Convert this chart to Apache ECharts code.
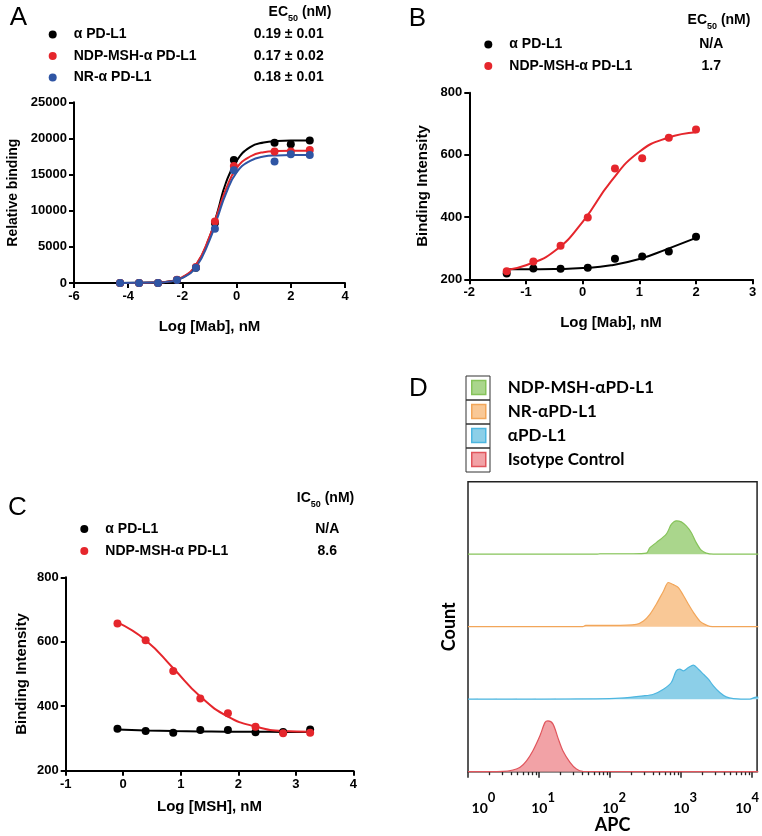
<!DOCTYPE html>
<html><head><meta charset="utf-8">
<script src="https://cdn.jsdelivr.net/npm/echarts@6/dist/echarts.min.js"></script>
<style>html,body{margin:0;padding:0;background:#fff}#c{width:762px;height:836px}</style>
</head><body><div id="c"></div>
<script>
// ---------- Panel A ----------
const aX = [-4.3, -3.6, -2.9, -2.2, -1.5, -0.8, -0.1, 1.4, 2.0, 2.7];
const aBlack = [0, 0, 0, 400, 2100, 8300, 17000, 19400, 19200, 19700];
const aRed = [0, 0, 0, 450, 2200, 8500, 16200, 18200, 18200, 18400];
const aBlue = [0, 0, 0, 400, 2100, 7500, 15600, 16800, 17800, 17700];
const aFitX = [-4.3, -3, -2.5, -2, -1.5, -1, -0.7, -0.4, 0, 0.5, 1, 1.5, 2, 2.7];
const aBlackFit = [0, 60, 200, 750, 2400, 6300, 9900, 13800, 16900, 18800, 19450, 19650, 19700, 19700];
const aRedFit = [0, 70, 220, 800, 2500, 6400, 9700, 12900, 15900, 17500, 18100, 18250, 18300, 18300];
const aBlueFit = [0, 55, 190, 700, 2200, 5900, 9100, 12300, 15300, 16900, 17500, 17650, 17700, 17700];
const aNames = ['α PD-L1', 'NDP-MSH-α PD-L1', 'NR-α PD-L1'];
const aEC50 = ['0.19 ± 0.01', '0.17 ± 0.02', '0.18 ± 0.01'];

// ---------- Panel B ----------
const bX = [-1.34, -0.87, -0.39, 0.09, 0.57, 1.05, 1.52, 2.0];
const bBlack = [219, 235, 234, 237, 266, 273, 289, 337];
const bRed = [226, 257, 308, 399, 556, 589, 655, 682];
const bFitX = [-1.34, -1, -0.5, 0, 0.5, 1, 1.5, 2];
const bBlackFit = [232, 232, 233, 236, 245, 265, 298, 333];
const bRedFit = [230, 245, 290, 385, 515, 610, 655, 673];
const bNames = ['α PD-L1', 'NDP-MSH-α PD-L1'];
const bEC50 = ['N/A', '1.7'];

// ---------- Panel C ----------
const cX = [-0.1, 0.39, 0.87, 1.34, 1.82, 2.30, 2.78, 3.25];
const cBlack = [330, 323, 318, 326, 326, 319, 320, 328];
const cRed = [657, 605, 509, 424, 378, 336, 316, 318];
const cBlackFit = [328, 325, 323, 322, 321, 321, 320, 320];
const cRedFit = [660, 605, 518, 430, 368, 337, 323, 321];
const cNames = ['α PD-L1', 'NDP-MSH-α PD-L1'];
const cIC50 = ['N/A', '8.6'];

// ---------- Panel D (x = log10 APC, y = relative count) ----------
const dNames = ['NDP-MSH-αPD-L1', 'NR-αPD-L1', 'αPD-L1', 'Isotype Control'];
const dGreenX = [0, 1.80, 1.85, 2.32, 2.50, 2.55, 2.64, 2.78, 2.85, 2.92, 2.99, 3.06, 3.13, 3.20, 3.27, 3.34, 3.44, 4.07];
const dGreenY = [0, 0, 0.6, 0.6, 1.5, 9, 16, 27.6, 41, 46, 44.6, 39, 30, 16, 5.5, 1.4, 0, 0];
const dOrangeX = [0, 1.61, 1.65, 2.03, 2.36, 2.46, 2.55, 2.64, 2.74, 2.81, 2.88, 2.95, 3.02, 3.09, 3.16, 3.25, 3.32, 3.39, 3.48, 4.07];
const dOrangeY = [0, 0, 1.8, 1.8, 3.2, 7.8, 17, 31, 49, 61, 58, 54, 43, 31, 19.8, 7.8, 3.2, 0.5, 0, 0];
const dBlueX = [0, 1.80, 2.13, 2.46, 2.60, 2.74, 2.85, 2.92, 2.97, 3.02, 3.09, 3.16, 3.23, 3.30, 3.37, 3.44, 3.53, 3.62, 3.72, 3.95, 4.04, 4.07];
const dBlueY = [0, 0.5, 1.4, 4.6, 6.9, 13.8, 23, 39, 41.4, 39, 43.7, 46.9, 41.4, 34.5, 27.6, 18.4, 9.2, 3.2, 0.9, 0, 3, 3];
const dRedX = [0, 0.49, 0.63, 0.73, 0.82, 0.91, 1.01, 1.08, 1.12, 1.19, 1.26, 1.33, 1.43, 1.52, 1.61, 4.07];
const dRedY = [0, 0.5, 2.3, 6, 15, 29, 50, 68, 70, 66, 47, 29, 13, 3.7, 0.5, 0];
const dDecades = [0, 1, 2, 3, 4];

const dFill = ['#aad68c', '#f9c896', '#8ccfe8', '#f2a2a6'];
const dStroke = ['#86c35a', '#f2a65a', '#4db6e0', '#e0555c'];

const F = "'Liberation Sans', Arial, sans-serif";
const FD = "Lato, 'Open Sans', sans-serif";
const RED = '#e5262c', BLUE = '#2f55a4', BLACK = '#000';
const zip = (xs, ys) => xs.map((x, i) => [x, ys[i]]);

function xAx(grid, min, max, interval, name, gap) {
  return {
    gridIndex: grid, type: 'value', min, max, interval,
    axisLine: {show: true, onZero: false, lineStyle: {color: '#000', width: 2}},
    axisTick: {show: true, length: 5, lineStyle: {color: '#000', width: 2}},
    splitLine: {show: false},
    axisLabel: {color: '#000', fontFamily: F, fontWeight: 'bold', fontSize: 13, margin: 7, formatter: v => String(v)},
    name, nameLocation: 'middle', nameGap: gap,
    nameTextStyle: {color: '#000', fontFamily: F, fontWeight: 'bold', fontSize: 15}
  };
}
function yAx(grid, min, max, interval, name, gap, fs) {
  return {
    gridIndex: grid, type: 'value', min, max, interval,
    axisLine: {show: true, onZero: false, lineStyle: {color: '#000', width: 2}},
    axisTick: {show: true, length: 5, lineStyle: {color: '#000', width: 2}},
    splitLine: {show: false},
    axisLabel: {color: '#000', fontFamily: F, fontWeight: 'bold', fontSize: 13, margin: 7, formatter: v => String(v)},
    name, nameLocation: 'middle', nameGap: gap,
    nameTextStyle: {color: '#000', fontFamily: F, fontWeight: 'bold', fontSize: fs}
  };
}
function legendFor(names, vals, left, top, gap, nw, vw) {
  return {
    orient: 'vertical', left, top, padding: 0, itemWidth: 8, itemHeight: 8, itemGap: gap,
    icon: 'circle', selectedMode: false, data: names,
    formatter: n => '{n|' + n + '}{v|' + vals[names.indexOf(n)] + '}',
    textStyle: {
      rich: {
        n: {fontFamily: F, fontWeight: 'bold', fontSize: 14, color: '#000', width: nw, padding: [0, 0, 0, 12], lineHeight: 16},
        v: {fontFamily: F, fontWeight: 'bold', fontSize: 14, color: '#000', width: vw, align: 'center', lineHeight: 16}
      }
    }
  };
}
function fit(xi, yi, xs, ys, color) {
  return {type: 'line', xAxisIndex: xi, yAxisIndex: yi, data: zip(xs, ys), smooth: 0.5,
    symbol: 'none', lineStyle: {color, width: 2}, z: 2, silent: true};
}
function pts(xi, yi, name, xs, ys, color) {
  return {type: 'scatter', name, xAxisIndex: xi, yAxisIndex: yi, data: zip(xs, ys),
    symbolSize: 8, itemStyle: {color, opacity: 1}, z: 3};
}
function header(x, y, a) {
  return {type: 'text', x, y, style: {
    text: '{a|' + a + '}{s|50}{a| (nM)}', align: 'center', verticalAlign: 'middle',
    rich: {
      a: {fontFamily: F, fontWeight: 'bold', fontSize: 14, lineHeight: 22, fill: '#000'},
      s: {fontFamily: F, fontWeight: 'bold', fontSize: 9, verticalAlign: 'bottom', fill: '#000'}
    }}};
}
function letter(x, y, t) {
  return {type: 'text', x, y, style: {text: t, fontFamily: F, fontSize: 26, fill: '#000', align: 'center', verticalAlign: 'middle'}};
}

const rowTop = 481.7, rowH = 72.5, dLeft = 468, dW = 290.3, dMax = 4.07;
const minorTicks = [];
dDecades.slice(0, 4).forEach(d => { for (let k = 2; k <= 9; k++) minorTicks.push(d + Math.log10(k)); });

const grids = [
  {left: 74, top: 102.3, width: 271, height: 180.7},
  {left: 469.3, top: 92.7, width: 283.4, height: 186.6},
  {left: 65.7, top: 577.3, width: 287.6, height: 193.4}
];
for (let i = 0; i < 4; i++) grids.push({left: dLeft, top: rowTop + rowH * i, width: dW, height: rowH});
grids.push({left: dLeft, top: rowTop, width: dW, height: rowH * 4, show: true, borderColor: '#222', borderWidth: 1.5, backgroundColor: 'transparent'});

const xAxes = [
  xAx(0, -6, 4, 2, 'Log [Mab], nM', 36),
  xAx(1, -2, 3, 1, 'Log [Mab], nM', 36),
  xAx(2, -1, 4, 1, 'Log [MSH], nM', 29)
];
const yAxes = [
  yAx(0, 0, 25000, 5000, 'Relative binding', 54, 14),
  yAx(1, 200, 800, 200, 'Binding Intensity', 39, 15),
  yAx(2, 200, 800, 200, 'Binding Intensity', 36, 15)
];
for (let i = 0; i < 4; i++) {
  xAxes.push({gridIndex: 3 + i, type: 'value', min: 0, max: dMax, show: false});
  yAxes.push({gridIndex: 3 + i, type: 'value', min: 0, max: 100, show: false});
}
const supBase = {fontFamily: FD, fontWeight: 'bold', fontSize: 14, color: '#000', verticalAlign: 'bottom'};
const supExp = {fontFamily: FD, fontWeight: 'bold', fontSize: 13, color: '#000', verticalAlign: 'top'};
xAxes.push({
  gridIndex: 7, type: 'value', min: 0, max: dMax, position: 'bottom',
  axisLine: {show: false}, splitLine: {show: false},
  axisTick: {show: true, customValues: dDecades, length: 6, lineStyle: {color: '#222', width: 1.5}},
  axisLabel: {customValues: dDecades, margin: 20,
    formatter: v => {
      const d = Math.round(v);
      if (d === 0) return '{b0|10}{e|0}';
      if (d === 4) return '{b4|10}{e4|4}';
      return '{b|10}{e|' + d + '}';
    },
    rich: {
      b: Object.assign({}, supBase, {padding: [0, 0, 0, 8]}),
      b0: Object.assign({}, supBase, {padding: [0, 0, 0, 31]}),
      b4: Object.assign({}, supBase, {padding: [0, 0, 0, 0]}),
      e: Object.assign({}, supExp, {padding: [0, 0, 11, 0]}),
      e4: Object.assign({}, supExp, {padding: [0, 10, 11, 0]})
    }},
  name: 'APC', nameLocation: 'middle', nameGap: 43,
  nameTextStyle: {fontFamily: FD, fontWeight: 'bold', fontSize: 18, color: '#000'}
});
xAxes.push({
  gridIndex: 7, type: 'value', min: 0, max: dMax, position: 'bottom',
  axisLine: {show: false}, splitLine: {show: false}, axisLabel: {show: false},
  axisTick: {show: true, customValues: minorTicks, length: 3.5, lineStyle: {color: '#222', width: 1.3}}
});
yAxes.push({
  gridIndex: 7, type: 'value', min: 0, max: 1,
  axisLine: {show: false}, axisTick: {show: false}, axisLabel: {show: false}, splitLine: {show: false},
  name: 'Count', nameLocation: 'middle', nameGap: 10,
  nameTextStyle: {fontFamily: FD, fontWeight: 'bold', fontSize: 18, color: '#000'}
});

const series = [
  fit(0, 0, aFitX, aBlackFit, BLACK), fit(0, 0, aFitX, aRedFit, RED), fit(0, 0, aFitX, aBlueFit, BLUE),
  pts(0, 0, aNames[0], aX, aBlack, BLACK), pts(0, 0, aNames[1], aX, aRed, RED), pts(0, 0, aNames[2], aX, aBlue, BLUE),
  fit(1, 1, bFitX, bBlackFit, BLACK), fit(1, 1, bFitX, bRedFit, RED),
  pts(1, 1, bNames[0], bX, bBlack, BLACK), pts(1, 1, bNames[1], bX, bRed, RED),
  fit(2, 2, cX, cBlackFit, BLACK), fit(2, 2, cX, cRedFit, RED),
  pts(2, 2, cNames[0], cX, cBlack, BLACK), pts(2, 2, cNames[1], cX, cRed, RED)
];
const hx = [dGreenX, dOrangeX, dBlueX, dRedX], hy = [dGreenY, dOrangeY, dBlueY, dRedY];
for (let i = 0; i < 4; i++) {
  series.push({type: 'line', name: dNames[i], xAxisIndex: 3 + i, yAxisIndex: 3 + i,
    data: zip(hx[i], hy[i]), smooth: 0.3, symbol: 'none', clip: false,
    lineStyle: {color: dStroke[i], width: 1.2}, itemStyle: {color: dFill[i]},
    areaStyle: {color: dFill[i], opacity: 1}, z: 2});
}

const option = {
  animation: false,
  backgroundColor: '#fff',
  grid: grids, xAxis: xAxes, yAxis: yAxes, series,
  legend: [
    legendFor(aNames, aEC50, 48.7, 27.6, 7.4, 175, 80),
    legendFor(bNames, bEC50, 484.3, 37.6, 7.4, 172, 60),
    legendFor(cNames, cIC50, 80.3, 522, 7.9, 192, 60),
    {orient: 'vertical', left: 471, top: 379, padding: 0, itemWidth: 14, itemHeight: 14, itemGap: 7, icon: 'rect', selectedMode: false,
     data: dNames.map((n, i) => ({name: n, itemStyle: {color: dFill[i], borderColor: dStroke[i], borderWidth: 1.5}})),
     textStyle: {fontFamily: FD, fontWeight: 'bold', fontSize: 17, color: '#000', lineHeight: 16, padding: [0, 0, 0, 17]}}
  ],
  graphic: [
    letter(18.5, 18, 'A'), letter(417.5, 19, 'B'), letter(17.5, 507.5, 'C'), letter(418.5, 388.5, 'D'),
    header(300, 12, 'EC'), header(719, 20, 'EC'), header(325.5, 498.3, 'IC'),
    ...[0, 1, 2, 3].map(i => ({type: 'rect', shape: {x: 466, y: 376 + 24 * i, width: 24, height: 24},
      style: {fill: 'none', stroke: '#333', lineWidth: 1}, z: 10}))
  ]
};
echarts.init(document.getElementById('c')).setOption(option);
</script></body></html>
